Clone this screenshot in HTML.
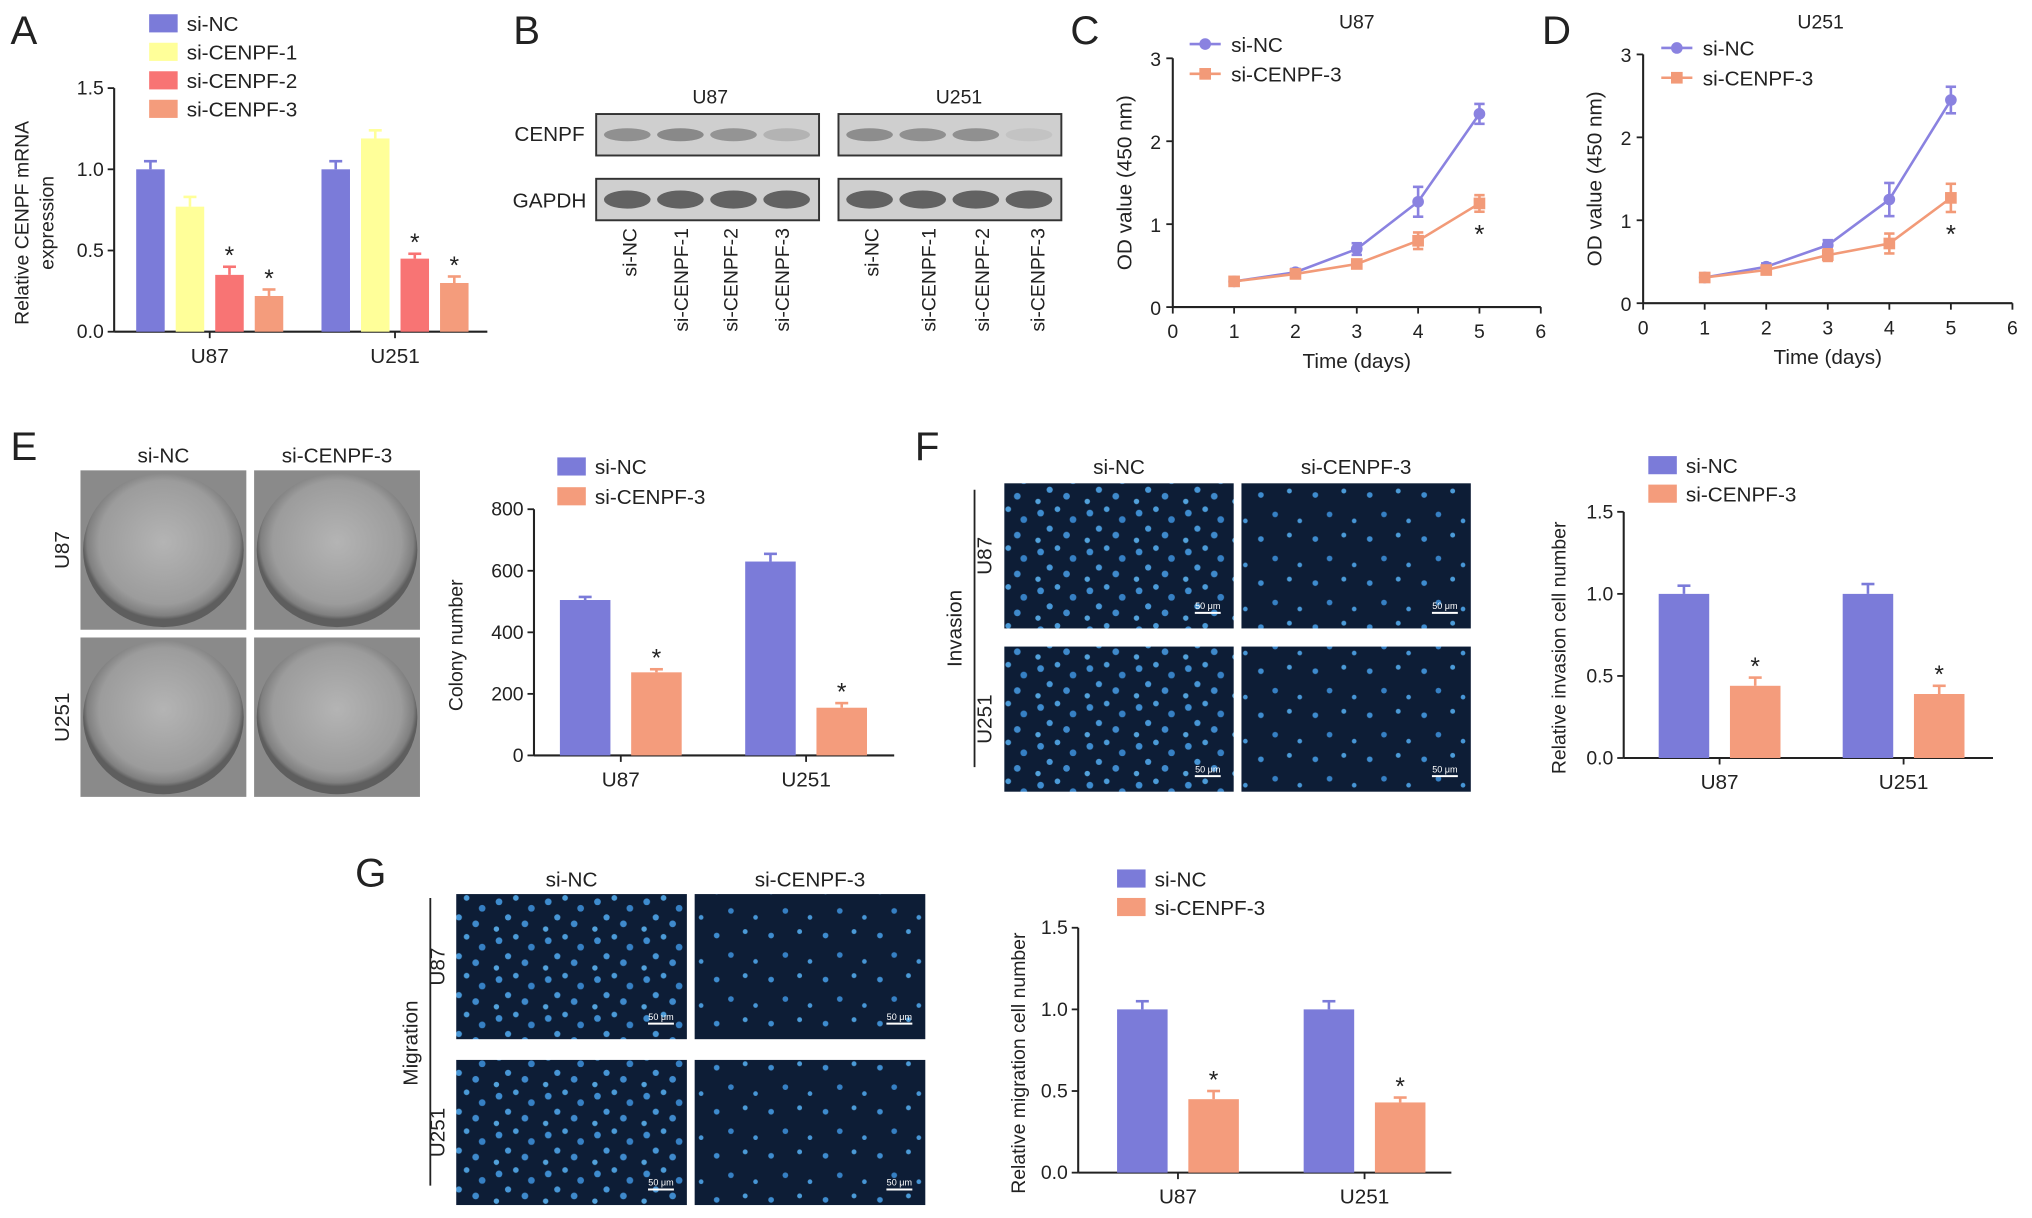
<!DOCTYPE html>
<html><head><meta charset="utf-8"><style>
html,body{margin:0;padding:0;background:#fff;}
svg{display:block;font-family:"Liberation Sans",Arial,sans-serif;}
</style></head><body>
<svg id="fig" width="2032" height="1218" viewBox="0 0 1568 940" xmlns="http://www.w3.org/2000/svg">
<defs>
<pattern id="cells" width="38" height="30" patternUnits="userSpaceOnUse">
<rect width="38" height="30" fill="#0d1d36"/>
<circle cx="5" cy="6" r="2.6" fill="#3e8ccf"/><circle cx="18" cy="3" r="2.2" fill="#4b9bd8"/>
<circle cx="30" cy="11" r="2.6" fill="#3680c4"/><circle cx="12" cy="18" r="2.4" fill="#4796d6"/>
<circle cx="25" cy="23" r="2.6" fill="#3f8acc"/><circle cx="3" cy="27" r="2.1" fill="#52a2dc"/>
</pattern>
<pattern id="cells2" width="42" height="34" patternUnits="userSpaceOnUse">
<rect width="42" height="34" fill="#0d1d36"/>
<circle cx="7" cy="8" r="2.2" fill="#3e8ccf"/><circle cx="29" cy="5" r="1.9" fill="#4b9bd8"/>
<circle cx="18" cy="23" r="2.2" fill="#3680c4"/><circle cx="37" cy="28" r="1.8" fill="#4796d6"/>
</pattern>
<radialGradient id="dish" cx="50%" cy="45%" r="50%">
<stop offset="0" stop-color="#b4b4b4"/><stop offset="0.8" stop-color="#9c9c9c"/><stop offset="0.95" stop-color="#808080"/><stop offset="1" stop-color="#5e5e5e"/>
</radialGradient>
</defs>
<g id="root"></g>
</svg>
<script>
// ---------- data ----------
const aCats = ["U87","U251"];
const aSeries = ["si-NC","si-CENPF-1","si-CENPF-2","si-CENPF-3"];
const aValues = [[1.0,0.77,0.35,0.22],[1.0,1.19,0.45,0.30]];
const aErrors = [[0.05,0.06,0.05,0.04],[0.05,0.05,0.03,0.04]];
const aStars = [[false,false,true,true],[false,false,true,true]];
const aTicks = ["0.0","0.5","1.0","1.5"];

const days = [1,2,3,4,5];
const xTicks = ["0","1","2","3","4","5","6"];
const odTicks = ["0","1","2","3"];
const cNC = [0.31,0.42,0.70,1.27,2.33];
const cNCerr = [0.03,0.04,0.07,0.18,0.12];
const c3 = [0.31,0.40,0.52,0.80,1.25];
const c3err = [0.03,0.03,0.05,0.10,0.10];
const dNC = [0.31,0.44,0.70,1.25,2.45];
const dNCerr = [0.03,0.04,0.06,0.2,0.16];
const d3 = [0.31,0.40,0.58,0.72,1.27];
const d3err = [0.03,0.04,0.07,0.12,0.17];

const twoSeries = ["si-NC","si-CENPF-3"];
const eValues = [[505,270],[630,155]];
const eErrors = [[10,10],[25,15]];
const eTicks = ["0","200","400","600","800"];
const fValues = [[1.0,0.44],[1.0,0.39]];
const fErrors = [[0.05,0.05],[0.06,0.05]];
const gValues = [[1.0,0.45],[1.0,0.43]];
const gErrors = [[0.05,0.05],[0.05,0.03]];
const relTicks = ["0.0","0.5","1.0","1.5"];
const twoStars = [[false,true],[false,true]];

// ---------- helpers ----------
const NS="http://www.w3.org/2000/svg";
const root=document.getElementById('root');
const COL=["#7b7bd9","#ffff99","#f87474","#f49c7c"];
const BLUE="#8a82e0", ORANGE="#f29a78";
function mk(tag,attrs,parent){const e=document.createElementNS(NS,tag);for(const k in attrs)e.setAttribute(k,attrs[k]);(parent||root).appendChild(e);return e;}
function txt(s,x,y,size,anchor,parent,rot){const t=mk('text',{x:x,y:y,'font-size':size,'text-anchor':anchor||'middle',fill:'#222'},parent);if(rot)t.setAttribute('transform','rotate('+rot+' '+x+' '+y+')');t.textContent=s;return t;}
function line(x1,y1,x2,y2,w,c,parent){return mk('line',{x1:x1,y1:y1,x2:x2,y2:y2,stroke:c||'#222','stroke-width':w||1.6},parent);}
function group(name){const g=mk('g',{});return g;}

function barChart(name,o){
  const g=group(name);
  const ymax=parseFloat(o.ticks[o.ticks.length-1]);
  const ys=v=>o.y0-(v/ymax)*(o.y0-o.y1);
  line(o.ax,o.y0,o.ax,o.y1,1.6,'#222',g);
  line(o.ax,o.y0,o.xEnd,o.y0,1.6,'#222',g);
  o.ticks.forEach(t=>{const v=parseFloat(t);const y=ys(v);line(o.ax-5,y,o.ax,y,1.4,'#222',g);const tl=txt(t,o.ax-8,y+5,o.fs,'end',g);});
  o.values.forEach((grp,gi)=>{
    grp.forEach((v,si)=>{
      const x=o.gx[gi]+si*o.step;
      const y=ys(v), ye=ys(v+o.errors[gi][si]);
      const c=o.colors[si];
      const b=mk('rect',{x:x,y:y,width:o.bw,height:o.y0-y,fill:c},g);
      
      
      line(x+o.bw/2,y,x+o.bw/2,ye,2,c,g);
      line(x+o.bw/2-5,ye,x+o.bw/2+5,ye,2,c,g);
      if(o.stars[gi][si]){const s=txt('*',x+o.bw/2,ye-2,o.fs+4,'middle',g);}
    });
    const cx=o.gx[gi]+((grp.length-1)*o.step+o.bw)/2;
    line(cx,o.y0,cx,o.y0+5,1.4,'#222',g);
    const cl=txt(o.cats[gi],cx,o.y0+24,o.fs+1,'middle',g);
    
  });
  const yl=txt(o.ylabel,o.ylx,(o.y0+o.y1)/2+10,o.fs,'middle',g,-90);
  
  if(o.ylabel2){const y2=txt(o.ylabel2,o.ylx+19,(o.y0+o.y1)/2+10,o.fs,'middle',g,-90);}
  o.series.forEach((s,i)=>{
    const ly=o.legY+i*o.legStep;
    const r=mk('rect',{x:o.legX,y:ly-8,width:22,height:14,fill:o.colors[i]},g);
    
    const lt=txt(s,o.legX+29,ly+5,o.fs+1,'start',g);
  });
}

function lineChart(name,o){
  const g=group(name);
  const xs=v=>o.x0+(v/6)*(o.x6-o.x0);
  const ys=v=>o.y0-(v/3)*(o.y0-o.y3);
  line(o.x0,o.y0,o.x0,o.y3,1.6,'#222',g);
  line(o.x0,o.y0,o.x6,o.y0,1.6,'#222',g);
  odTicks.forEach(t=>{const y=ys(+t);line(o.x0-5,y,o.x0,y,1.4,'#222',g);const l=txt(t,o.x0-9,y+6,15,'end',g);});
  xTicks.forEach(t=>{const x=xs(+t);line(x,o.y0,x,o.y0+5,1.4,'#222',g);const l=txt(t,x,o.y0+24,15,'middle',g);});
  [[o.nc,o.ncErr,BLUE,'si-nc'],[o.s3,o.s3Err,ORANGE,'si-cenpf-3']].forEach(([vals,errs,c,nm],k)=>{
    const p=mk('polyline',{points:vals.map((v,i)=>xs(days[i])+','+ys(v)).join(' '),fill:'none',stroke:c,'stroke-width':2},g);
    
    vals.forEach((v,i)=>{
      const x=xs(days[i]),y=ys(v),t=ys(v+errs[i]),b=ys(v-errs[i]);
      line(x,t,x,b,2,c,g);line(x-4,t,x+4,t,2,c,g);line(x-4,b,x+4,b,2,c,g);
      const m=k===0?mk('circle',{cx:x,cy:y,r:4.5,fill:c},g):mk('rect',{x:x-4.5,y:y-4.5,width:9,height:9,fill:c},g);
      
    });
  });
  const s=txt('*',xs(5),ys(o.s3[4]-o.s3err4)+24,20,'middle',g);
  const tt=txt(o.title,o.titleX,22,15,'middle',g);
  const yl=txt('OD value (450 nm)',o.x0-32,(o.y0+o.y3)/2,16,'middle',g,-90);
  const xl=txt('Time (days)',(xs(1)+xs(5))/2,o.y0+47,16,'middle',g);
  [['si-NC',BLUE,0],['si-CENPF-3',ORANGE,1]].forEach(([n,c,i])=>{
    const y=o.legY+i*23;
    line(o.legX,y,o.legX+24,y,2,c,g);
    if(i===0)mk('circle',{cx:o.legX+12,cy:y,r:4.5,fill:c},g);else mk('rect',{x:o.legX+7.5,y:y-4.5,width:9,height:9,fill:c},g);
    const l=txt(n,o.legX+32,y+6,16,'start',g);
  });
}

function panelLetter(L,x,y){const t=txt(L,x,y,31,'start');}

// ---------- panel A ----------
panelLetter('A',8,34);
barChart('panel-a-mrna-chart',{ax:88,y0:256,y1:68,xEnd:376,ticks:aTicks,fs:15,values:aValues,errors:aErrors,stars:aStars,
  cats:aCats,series:aSeries,colors:COL,gx:[105,248],step:30.5,bw:22,ylabel:'Relative CENPF mRNA',ylabel2:'expression',ylx:22,
  legX:115,legY:19,legStep:22});

// ---------- panel B (western blot) ----------
panelLetter('B',396,34);
(function(){
  const g=group('panel-b-western-blot');
  txt('U87',548,80,15,'middle',g);txt('U251',740,80,15,'middle',g);
  txt('CENPF',424,109,16,'middle',g);txt('GAPDH',424,160,16,'middle',g);
  const boxes=[[460,172],[647,172]];
  const cenpf=[[0.8,0.9,0.75,0.35],[0.85,0.8,0.8,0.15]];
  boxes.forEach(([bx,bw],bi)=>{
    [[88,'cenpf'],[138,'gapdh']].forEach(([by,nm])=>{
      const r=mk('rect',{x:bx,y:by,width:bw,height:32,fill:'#cfcfcf',stroke:'#333','stroke-width':1.5},g);
      
      for(let i=0;i<4;i++){
        const cx=bx+24+i*41;
        const op=nm==='cenpf'?cenpf[bi][i]*0.5:0.7;
        mk('ellipse',{cx:cx,cy:by+16,rx:18,ry:nm==='cenpf'?5:7,fill:'#333','fill-opacity':op},g);
      }
    });
  });
  const lanes=['si-NC','si-CENPF-1','si-CENPF-2','si-CENPF-3'];
  [[491,531,569,609],[678,722,763,806]].forEach(xsL=>xsL.forEach((x,i)=>{const t=txt(lanes[i],x,176,15,'end',g,-90);}));
})();

// ---------- panels C, D ----------
panelLetter('C',826,34);
lineChart('panel-c-growth-u87',{x0:905,x6:1189,y0:237,y3:45,nc:cNC,ncErr:cNCerr,s3:c3,s3Err:c3err,s3err4:c3err[4],title:'U87',titleX:1047,legX:918,legY:34});
panelLetter('D',1190,34);
lineChart('panel-d-growth-u251',{x0:1268,x6:1553,y0:234,y3:42,nc:dNC,ncErr:dNCerr,s3:d3,s3Err:d3err,s3err4:d3err[4],title:'U251',titleX:1405,legX:1282,legY:37});

// ---------- image tiles ----------
function tiles(name,xs,ys,w,h,kind,colLabels,rowLabels,labelY,rowX,sideLabel){
  const g=group(name);
  xs.forEach((x,ci)=>ys.forEach((y,ri)=>{
    let r;
    if(kind==='dish'){
      r=mk('rect',{x:x,y:y,width:w,height:h,fill:'#8a8a8a'},g);
      mk('ellipse',{cx:x+w/2,cy:y+h/2,rx:w/2-2,ry:h/2-2,fill:'url(#dish)'},g);
    } else {
      r=mk('rect',{x:x,y:y,width:w,height:h,fill:ci===0?'url(#cells)':'url(#cells2)'},g);
      line(x+w-30,y+h-12,x+w-10,y+h-12,1.5,'#fff',g);
      const s=mk('text',{x:x+w-20,y:y+h-15,'font-size':7,'text-anchor':'middle',fill:'#fff'},g);s.textContent='50 μm';
    }
    
    
  }));
  colLabels.forEach((c,i)=>txt(c,xs[i]+w/2,labelY,16,'middle',g));
  rowLabels.forEach((r,i)=>txt(r,rowX,ys[i]+h/2,16,'middle',g,-90));
  if(sideLabel){txt(sideLabel[0],sideLabel[1],sideLabel[2],16,'middle',g,-90);line(sideLabel[3],sideLabel[4],sideLabel[3],sideLabel[5],1.4,'#222',g);}
}

// ---------- panel E ----------
panelLetter('E',8,355);
tiles('panel-e-colony-images',[62,196],[363,492],128,123,'dish',['si-NC','si-CENPF-3'],['U87','U251'],357,53);
barChart('panel-e-colony-chart',{ax:412,y0:583,y1:393,xEnd:690,ticks:eTicks,fs:15,values:eValues,errors:eErrors,stars:twoStars,
  cats:aCats,series:twoSeries,colors:[COL[0],COL[3]],gx:[432,575],step:55,bw:39,ylabel:'Colony number',ylx:357,legX:430,legY:361,legStep:23});

// ---------- panel F ----------
panelLetter('F',706,355);
tiles('panel-f-invasion-images',[775,958],[373,499],177,112,'cells',['si-NC','si-CENPF-3'],['U87','U251'],366,765,['Invasion',742,485,752,378,592]);
barChart('panel-f-invasion-chart',{ax:1253,y0:585,y1:395,xEnd:1538,ticks:relTicks,fs:15,values:fValues,errors:fErrors,stars:twoStars,
  cats:aCats,series:twoSeries,colors:[COL[0],COL[3]],gx:[1280,1422],step:55,bw:39,ylabel:'Relative invasion cell number',ylx:1208,legX:1272,legY:360,legStep:22});

// ---------- panel G ----------
panelLetter('G',274,684);
tiles('panel-g-migration-images',[352,536],[690,818],178,112,'cells',['si-NC','si-CENPF-3'],['U87','U251'],684,343,['Migration',322,805,332,693,915]);
barChart('panel-g-migration-chart',{ax:832,y0:905,y1:716,xEnd:1120,ticks:relTicks,fs:15,values:gValues,errors:gErrors,stars:twoStars,
  cats:aCats,series:twoSeries,colors:[COL[0],COL[3]],gx:[862,1006],step:55,bw:39,ylabel:'Relative migration cell number',ylx:791,legX:862,legY:679,legStep:22});
</script>
</body></html>
